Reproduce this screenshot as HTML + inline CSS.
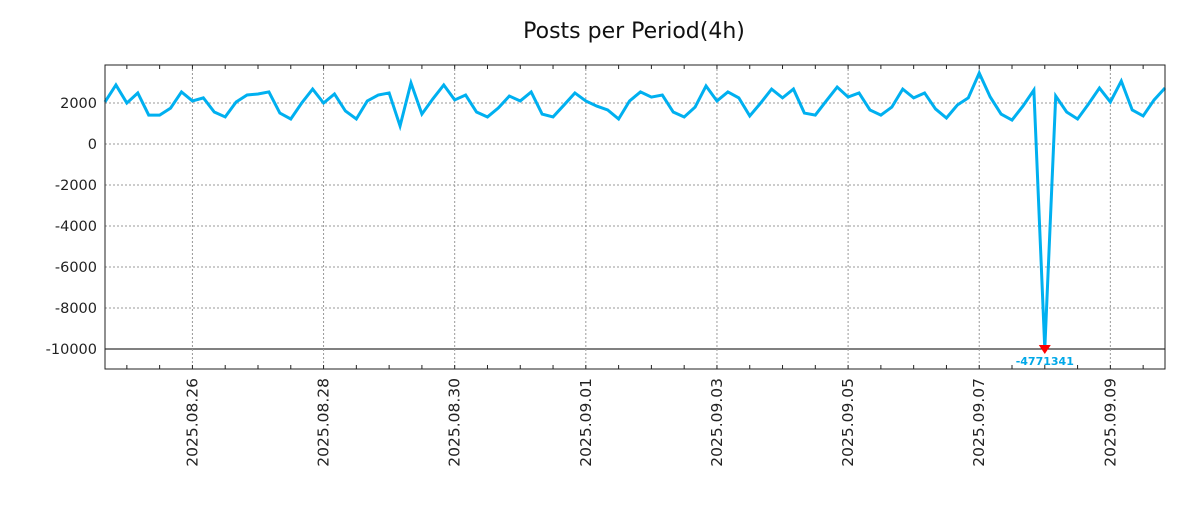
<!DOCTYPE html>
<html><head><meta charset="utf-8"><style>
body{margin:0;background:#fff}
svg text{font-family:"DejaVu Sans","Liberation Sans",sans-serif}
</style></head><body>
<svg width="1200" height="500" xmlns="http://www.w3.org/2000/svg">
<text x="634" y="38" font-size="22" text-anchor="middle" fill="#111">Posts per Period(4h)</text>
<g id="grid"></g>
<g id="series"></g>
<g id="axes"></g>
</svg>
<script>
const values = [2050,2880,2000,2490,1410,1410,1750,2540,2100,2250,1560,1320,2050,2390,2440,2540,1510,1220,2000,2680,2000,2440,1610,1220,2100,2390,2490,880,2980,1460,2200,2880,2150,2390,1560,1320,1760,2340,2100,2540,1460,1320,1900,2490,2100,1850,1660,1220,2100,2540,2290,2390,1560,1320,1800,2830,2100,2540,2250,1370,2000,2680,2250,2680,1510,1410,2100,2780,2290,2490,1660,1410,1800,2680,2250,2490,1710,1270,1900,2250,3460,2300,1460,1170,1850,2630,-4771341,2340,1560,1220,1950,2730,2050,3070,1660,1370,2150,2730];
const startTime = "2025-08-24T16:00:00";
const periodHours = 4;
const yTicks = [2000,0,-2000,-4000,-6000,-8000,-10000];
const xTickLabels = ["2025.08.26","2025.08.28","2025.08.30","2025.09.01","2025.09.03","2025.09.05","2025.09.07","2025.09.09"];
const yMin = -10976, yMax = 3854, clipMin = -10000;

const NS="http://www.w3.org/2000/svg";
const L=105,R=1165,T=65,B=369;
const t0=new Date(startTime).getTime();
const tEnd=t0+(values.length-1)*periodHours*3600e3;
const xs=t=>L+(t-t0)/(tEnd-t0)*(R-L);
const ys=v=>T+(yMax-v)/(yMax-yMin)*(B-T);
function el(tag,attrs,parent,txt){const e=document.createElementNS(NS,tag);for(const k in attrs)e.setAttribute(k,attrs[k]);if(txt!==undefined)e.textContent=txt;parent.appendChild(e);return e;}
const grid=document.getElementById('grid'),axes=document.getElementById('axes'),series=document.getElementById('series');

yTicks.forEach(v=>{
  const y=ys(v);
  const g=el('line',{x1:L,x2:R,y1:y,y2:y,stroke:v===clipMin?'#000':'#999','stroke-width':1,'stroke-dasharray':v===clipMin?'':'2,2'},grid);
  
  
  const t=el('text',{x:L-8,y:y+5,'font-size':14.5,'text-anchor':'end',fill:'#222'},axes,String(v));
  
  
});
const firstDay=new Date("2025-08-25T00:00:00").getTime();
for(let t=firstDay-12*3600e3;t<=tEnd;t+=12*3600e3){
  if(t<t0)continue;const x=xs(t);
  el('line',{x1:x,x2:x,y1:B,y2:B-4,stroke:'#222'},axes);
  el('line',{x1:x,x2:x,y1:T,y2:T+4,stroke:'#222'},axes);
}
xTickLabels.forEach(lbl=>{
  const p=lbl.split('.');const t=new Date(p[0]+'-'+p[1]+'-'+p[2]+'T00:00:00').getTime();const x=xs(t);
  const g=el('line',{x1:x,x2:x,y1:T,y2:B,stroke:'#999','stroke-dasharray':'2,2'},grid);
  
  
  const tx=el('text',{x:0,y:0,'font-size':15.5,'text-anchor':'end',fill:'#222',transform:`translate(${x+5},378) rotate(-90)`},axes,lbl);
  
  
});
const frame=el('rect',{x:L,y:T,width:R-L,height:B-T,fill:'none',stroke:'#222','stroke-width':1},axes);



const pts=values.map((v,i)=>[xs(t0+i*periodHours*3600e3),ys(Math.max(v,clipMin))]);
const line=el('polyline',{points:pts.map(p=>p.join(',')).join(' '),fill:'none',stroke:'#00b0f0','stroke-width':3,'stroke-linejoin':'miter'},series);


let mi=0;values.forEach((v,i)=>{if(v<values[mi])mi=i;});
const [mx,my]=pts[mi];
const mk=el('polygon',{points:`${mx-6},${my-4} ${mx+6},${my-4} ${mx},${my+5}`,fill:'#f00'},series);


const ml=el('text',{x:mx,y:my+16,'font-size':11,'font-weight':'bold','text-anchor':'middle',fill:'#00a8e8'},series,String(values[mi]));


</script>
</body></html>
